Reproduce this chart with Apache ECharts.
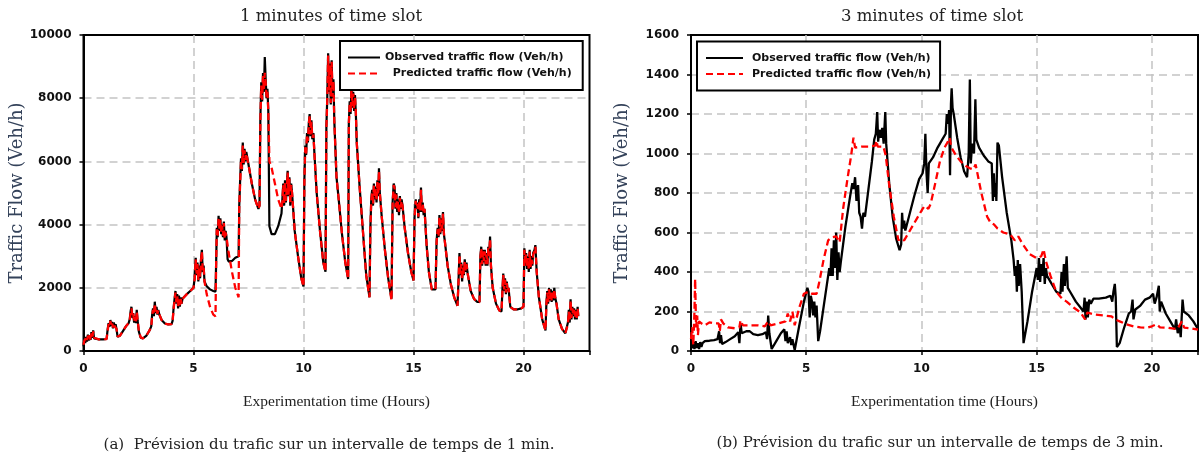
<!DOCTYPE html>
<html><head><meta charset="utf-8">
<script src="https://cdn.jsdelivr.net/npm/echarts@6/dist/echarts.min.js"></script>
<style>html,body{margin:0;padding:0;background:#fff}#c{width:1203px;height:459px}</style>
</head><body><div id="c"></div>
<script>
// ---- tick labels / text ----
const xTicksLeft = [0, 5, 10, 15, 20];
const yTicksLeft = [0, 2000, 4000, 6000, 8000, 10000];
const xTicksRight = [0, 5, 10, 15, 20];
const yTicksRight = [0, 200, 400, 600, 800, 1000, 1200, 1400, 1600];
const seriesNames = ['Observed traffic flow (Veh/h)', 'Predicted traffic flow (Veh/h)'];

// ---- 1 minute slot: [hour, veh/h] ----
const observed1 = [
[0,150],[0.04,380],[0.08,250],[0.12,450],[0.16,300],[0.2,520],[0.24,330],[0.28,480],[0.32,350],[0.36,600],[0.4,420],[0.44,650],[0.48,400],[0.55,380],[0.7,370],[0.9,370],[1.05,380],
[1.1,700],[1.14,880],[1.18,760],[1.22,980],[1.26,800],[1.3,920],[1.34,720],[1.38,900],[1.42,760],[1.46,850],[1.5,700],[1.55,450],[1.65,480],[1.8,640],[1.95,800],[2.05,880],
[2.1,1000],[2.14,1250],[2.18,1400],[2.22,1050],[2.26,1200],[2.3,900],[2.34,1100],[2.38,880],[2.42,1300],[2.46,950],[2.52,600],[2.6,420],[2.7,400],[2.85,480],[3.0,650],[3.08,780],
[3.12,1150],[3.16,1350],[3.2,1100],[3.24,1560],[3.28,1200],[3.32,1400],[3.36,1150],[3.4,1300],[3.45,1150],[3.55,980],[3.7,870],[3.85,840],[4.0,850],[4.05,950],
[4.1,1400],[4.14,1650],[4.18,1900],[4.22,1500],[4.26,1800],[4.3,1350],[4.34,1750],[4.38,1400],[4.42,1700],[4.46,1500],[4.5,1650],[4.7,1800],[4.9,1930],[5.0,2000],
[5.05,2300],[5.1,2950],[5.14,2400],[5.18,2800],[5.22,2200],[5.26,2700],[5.3,2300],[5.34,2900],[5.38,3200],[5.42,2500],[5.46,2700],[5.5,2200],[5.6,2050],[5.75,1950],[5.9,1900],[6.0,1880],
[6.03,2800],[6.06,3900],[6.1,3600],[6.14,4280],[6.18,3800],[6.22,4200],[6.26,3700],[6.3,4000],[6.34,3600],[6.38,4100],[6.42,3500],[6.46,3800],[6.5,3600],[6.55,2900],[6.6,2830],[6.75,2850],[6.9,2950],[7.05,3000],
[7.08,4600],[7.12,5400],[7.16,6100],[7.2,5700],[7.24,6600],[7.28,5900],[7.32,6400],[7.36,6000],[7.4,6300],[7.5,5900],[7.65,5300],[7.8,4800],[7.95,4500],[8.0,4600],
[8.04,7400],[8.08,8500],[8.12,7900],[8.16,8800],[8.2,8200],[8.24,9300],[8.28,8600],[8.32,8000],[8.36,8300],[8.4,7600],[8.45,3950],[8.55,3700],[8.7,3700],[8.85,3950],[9.0,4350],
[9.04,4800],[9.08,5300],[9.12,4600],[9.16,5400],[9.2,4700],[9.24,5200],[9.28,5700],[9.32,4900],[9.36,5500],[9.4,4600],[9.44,5300],[9.48,5000],[9.6,3800],[9.75,3000],[9.9,2300],[10.0,2040],
[10.04,5400],[10.08,6500],[10.12,6200],[10.16,6900],[10.2,6600],[10.24,7200],[10.28,7500],[10.32,6800],[10.36,7300],[10.4,6700],[10.45,6900],[10.5,6200],[10.6,5000],[10.75,3800],[10.9,2800],[11.0,2510],
[11.04,7100],[11.08,8000],[11.12,9420],[11.16,8200],[11.2,9100],[11.24,7800],[11.28,9200],[11.32,8000],[11.36,8600],[11.4,7300],[11.5,5500],[11.6,4800],[11.75,3700],[11.9,2800],[12.03,2280],
[12.06,7200],[12.1,7900],[12.14,7500],[12.18,8300],[12.22,7700],[12.26,8200],[12.3,7600],[12.34,8100],[12.38,7500],[12.42,6600],[12.55,5200],[12.7,3800],[12.85,2400],[13.0,1700],
[13.04,3900],[13.08,4800],[13.12,5100],[13.16,4600],[13.2,5300],[13.24,4800],[13.28,5200],[13.32,4700],[13.36,5400],[13.4,4900],[13.43,5780],[13.47,5000],[13.55,4300],[13.7,3200],[13.85,2300],[14.0,1650],
[14.05,4700],[14.1,5300],[14.14,5200],[14.18,4500],[14.22,5000],[14.26,4400],[14.3,4800],[14.34,4300],[14.38,4900],[14.42,4500],[14.46,4800],[14.5,4600],[14.6,3900],[14.75,3100],[14.9,2500],[15.0,2230],
[15.05,4300],[15.1,4800],[15.14,4500],[15.18,4700],[15.22,4200],[15.26,4800],[15.3,4400],[15.34,5170],[15.38,4400],[15.42,4700],[15.46,4300],[15.5,4500],[15.6,3300],[15.7,2500],[15.83,1950],[16.0,1950],
[16.05,3500],[16.1,3900],[16.14,3600],[16.18,4300],[16.22,3700],[16.26,4200],[16.3,3800],[16.34,4400],[16.38,3700],[16.42,3500],[16.55,2700],[16.7,2100],[16.85,1700],[17.0,1430],
[17.05,2300],[17.09,3100],[17.13,2400],[17.17,2800],[17.21,2200],[17.25,2700],[17.29,2400],[17.33,2900],[17.37,2500],[17.41,2800],[17.45,2500],[17.5,2300],[17.6,1900],[17.75,1650],[17.9,1550],[18.0,1550],
[18.04,3000],[18.08,3300],[18.12,2700],[18.16,3200],[18.2,2800],[18.24,3200],[18.28,2700],[18.32,3100],[18.36,2700],[18.4,3300],[18.44,3000],[18.48,3620],[18.52,2700],[18.6,2000],[18.75,1500],[18.9,1280],[19.0,1250],
[19.04,1900],[19.08,2450],[19.12,1900],[19.16,2300],[19.2,1800],[19.24,2200],[19.28,1900],[19.32,2000],[19.4,1400],[19.55,1320],[19.75,1320],[19.9,1350],[20.0,1400],
[20.04,3250],[20.08,2700],[20.12,3100],[20.16,2600],[20.2,3000],[20.24,2500],[20.28,3200],[20.32,2600],[20.36,3000],[20.4,2700],[20.44,3100],[20.5,3200],[20.54,3350],[20.6,2500],[20.7,1700],[20.85,1000],[21.0,650],
[21.04,1500],[21.08,1900],[21.12,1500],[21.16,2000],[21.2,1600],[21.24,1950],[21.28,1550],[21.32,1900],[21.36,1600],[21.4,2000],[21.44,1700],[21.5,1500],[21.6,1000],[21.75,700],[21.9,560],[21.97,560],
[22.02,900],[22.06,1300],[22.1,900],[22.14,1640],[22.18,1000],[22.22,1400],[22.26,1100],[22.3,1350],[22.34,1000],[22.38,1300],[22.42,1000],[22.46,1400],[22.49,1100]
];
const predicted1 = [
[0,200],[0.04,330],[0.08,280],[0.12,420],[0.16,330],[0.2,480],[0.24,350],[0.28,500],[0.32,330],[0.36,560],[0.4,400],[0.44,620],[0.48,420],[0.55,380],[0.7,370],[0.9,370],[1.05,380],
[1.1,650],[1.14,850],[1.18,780],[1.22,950],[1.26,820],[1.3,900],[1.34,740],[1.38,880],[1.42,780],[1.46,820],[1.5,700],[1.55,460],[1.65,480],[1.8,640],[1.95,800],[2.05,880],
[2.1,950],[2.14,1200],[2.18,1350],[2.22,1080],[2.26,1180],[2.3,920],[2.34,1080],[2.38,900],[2.42,1250],[2.46,980],[2.52,620],[2.6,430],[2.7,400],[2.85,480],[3.0,650],[3.08,780],
[3.12,1100],[3.16,1300],[3.2,1150],[3.24,1500],[3.28,1250],[3.32,1350],[3.36,1180],[3.4,1280],[3.45,1150],[3.55,980],[3.7,870],[3.85,840],[4.0,850],[4.05,950],
[4.1,1350],[4.14,1600],[4.18,1850],[4.22,1550],[4.26,1750],[4.3,1400],[4.34,1700],[4.38,1450],[4.42,1650],[4.46,1500],[4.5,1650],[4.7,1800],[4.9,1930],[5.0,2000],
[5.05,2250],[5.1,2900],[5.14,2450],[5.18,2750],[5.22,2250],[5.26,2650],[5.3,2350],[5.34,2850],[5.38,3150],[5.42,2550],[5.46,2650],[5.5,2200],[5.6,1800],[5.75,1400],[5.9,1150],[6.0,1100],
[6.03,2800],[6.06,3850],[6.1,3650],[6.14,4200],[6.18,3850],[6.22,4150],[6.26,3750],[6.3,3950],[6.34,3650],[6.38,4050],[6.42,3550],[6.46,3750],[6.5,3600],[6.6,3100],[6.75,2500],[6.9,2000],[7.05,1700],
[7.08,4600],[7.12,5300],[7.16,6000],[7.2,5750],[7.24,6500],[7.28,5950],[7.32,6350],[7.36,6050],[7.4,6250],[7.5,5900],[7.65,5300],[7.8,4800],[7.95,4500],[8.0,4600],
[8.04,7300],[8.08,8400],[8.12,7950],[8.16,8700],[8.2,8250],[8.24,8800],[8.28,8500],[8.32,8050],[8.36,8200],[8.4,7600],[8.45,6000],[8.55,5800],[8.7,5300],[8.85,4800],[9.0,4500],
[9.04,4750],[9.08,5250],[9.12,4650],[9.16,5350],[9.2,4750],[9.24,5150],[9.28,5650],[9.32,4950],[9.36,5450],[9.4,4650],[9.44,5250],[9.48,5000],[9.6,3800],[9.75,3000],[9.9,2300],[10.0,2040],
[10.04,5350],[10.08,6450],[10.12,6250],[10.16,6850],[10.2,6650],[10.24,7150],[10.28,7450],[10.32,6850],[10.36,7250],[10.4,6750],[10.45,6850],[10.5,6200],[10.6,5000],[10.75,3800],[10.9,2800],[11.0,2510],
[11.04,7050],[11.08,7950],[11.12,9350],[11.16,8250],[11.2,9050],[11.24,7850],[11.28,9150],[11.32,8050],[11.36,8550],[11.4,7300],[11.5,5500],[11.6,4800],[11.75,3700],[11.9,2800],[12.03,2280],
[12.06,7150],[12.1,7850],[12.14,7550],[12.18,8250],[12.22,7750],[12.26,8150],[12.3,7650],[12.34,8050],[12.38,7550],[12.42,6600],[12.55,5200],[12.7,3800],[12.85,2400],[13.0,1700],
[13.04,3850],[13.08,4750],[13.12,5050],[13.16,4650],[13.2,5250],[13.24,4850],[13.28,5150],[13.32,4750],[13.36,5350],[13.4,4950],[13.43,5700],[13.47,5000],[13.55,4300],[13.7,3200],[13.85,2300],[14.0,1600],
[14.05,4650],[14.1,5250],[14.14,5150],[14.18,4550],[14.22,4950],[14.26,4450],[14.3,4750],[14.34,4350],[14.38,4850],[14.42,4550],[14.46,4750],[14.5,4600],[14.6,3900],[14.75,3100],[14.9,2500],[15.0,2230],
[15.05,4250],[15.1,4750],[15.14,4550],[15.18,4650],[15.22,4250],[15.26,4750],[15.3,4450],[15.34,5100],[15.38,4450],[15.42,4650],[15.46,4350],[15.5,4500],[15.6,3300],[15.7,2500],[15.83,1950],[16.0,1950],
[16.05,3450],[16.1,3850],[16.14,3650],[16.18,4250],[16.22,3750],[16.26,4150],[16.3,3850],[16.34,4350],[16.38,3750],[16.42,3500],[16.55,2700],[16.7,2100],[16.85,1700],[17.0,1430],
[17.05,2250],[17.09,3050],[17.13,2450],[17.17,2750],[17.21,2250],[17.25,2650],[17.29,2450],[17.33,2850],[17.37,2550],[17.41,2750],[17.45,2500],[17.5,2300],[17.6,1900],[17.75,1650],[17.9,1550],[18.0,1550],
[18.04,2950],[18.08,3250],[18.12,2750],[18.16,3150],[18.2,2850],[18.24,3150],[18.28,2750],[18.32,3050],[18.36,2750],[18.4,3250],[18.44,3000],[18.48,3550],[18.52,2700],[18.6,2000],[18.75,1500],[18.9,1280],[19.0,1250],
[19.04,1850],[19.08,2400],[19.12,1950],[19.16,2250],[19.2,1850],[19.24,2150],[19.28,1900],[19.32,2000],[19.4,1400],[19.55,1320],[19.75,1320],[19.9,1350],[20.0,1400],
[20.04,3200],[20.08,2750],[20.12,3050],[20.16,2650],[20.2,2950],[20.24,2550],[20.28,3150],[20.32,2650],[20.36,2950],[20.4,2750],[20.44,3050],[20.5,3150],[20.54,3300],[20.6,2500],[20.7,1700],[20.85,1000],[21.0,650],
[21.04,1450],[21.08,1850],[21.12,1550],[21.16,1950],[21.2,1650],[21.24,1900],[21.28,1600],[21.32,1850],[21.36,1650],[21.4,1950],[21.44,1700],[21.5,1500],[21.6,1000],[21.75,700],[21.9,560],[21.97,560],
[22.02,850],[22.06,1250],[22.1,950],[22.14,1600],[22.18,1050],[22.22,1350],[22.26,1150],[22.3,1300],[22.34,1050],[22.38,1250],[22.42,1050],[22.46,1350],[22.49,1100]
];

// ---- 3 minutes slot: [hour, veh/h] ----
const observed3 = [
[0,30],[0.05,15],[0.1,45],[0.15,10],[0.2,50],[0.25,15],[0.3,40],[0.35,10],[0.4,45],[0.45,20],[0.5,40],[0.6,50],[0.8,52],[1.0,55],[1.15,60],[1.22,100],[1.26,40],[1.3,80],[1.35,35],[1.5,45],[1.7,60],[1.9,75],[2.05,95],[2.1,40],[2.15,140],[2.2,90],[2.4,100],[2.55,100],[2.7,85],[2.9,80],[3.1,85],[3.25,95],[3.3,60],[3.35,180],[3.4,90],[3.5,10],[3.55,20],[3.7,50],[3.9,90],[4.05,110],[4.1,50],[4.15,100],[4.2,40],[4.3,70],[4.35,30],[4.4,60],[4.5,5],
[4.7,130],[4.9,250],[5.05,320],[5.1,300],[5.15,170],[5.2,280],[5.25,250],[5.3,180],[5.35,250],[5.4,170],[5.45,230],[5.52,50],[5.6,100],[5.8,260],[6.0,420],[6.05,380],[6.1,520],[6.15,380],[6.2,560],[6.25,420],[6.3,600],[6.35,360],[6.4,500],[6.45,400],[6.5,450],
[6.7,630],[6.9,780],[7.0,850],[7.06,820],[7.12,880],[7.18,760],[7.25,840],[7.3,700],[7.36,680],[7.42,620],[7.48,700],[7.55,680],[7.7,820],[7.85,960],[7.95,1070],[8.02,1100],[8.08,1210],[8.12,1060],[8.18,1120],[8.24,1080],[8.3,1130],[8.36,1050],[8.43,1210],[8.47,1050],
[8.6,850],[8.75,680],[8.9,570],[9.05,510],[9.12,540],[9.16,700],[9.2,620],[9.25,660],[9.3,610],[9.5,700],[9.7,790],[9.9,870],[10.05,900],[10.12,950],[10.17,1100],[10.22,900],[10.27,800],[10.32,950],[10.5,980],[10.7,1030],[10.9,1070],[11.05,1100],
[11.1,1200],[11.15,1150],[11.2,1220],[11.24,890],[11.28,1250],[11.31,1330],[11.35,1230],[11.4,1200],[11.55,1080],[11.7,980],[11.85,910],[11.98,880],[12.05,1000],[12.1,1375],[12.14,950],[12.2,1050],[12.28,1000],[12.34,1275],[12.38,1070],[12.5,1030],[12.7,990],[12.9,960],[13.05,950],
[13.1,760],[13.14,900],[13.18,780],[13.22,850],[13.25,760],[13.3,1055],[13.36,1040],[13.5,880],[13.7,700],[13.9,560],[14.0,460],[14.05,380],[14.1,430],[14.14,300],[14.18,460],[14.22,330],[14.28,440],[14.35,300],[14.43,40],
[14.6,150],[14.8,300],[15.0,420],[15.05,360],[15.1,470],[15.15,350],[15.2,440],[15.25,380],[15.3,470],[15.35,340],[15.4,420],[15.45,380],[15.6,350],[15.85,300],[16.03,290],[16.08,400],[16.12,300],[16.18,440],[16.22,330],[16.27,420],[16.3,480],[16.35,320],[16.45,300],
[16.7,250],[16.9,220],[17.03,200],[17.08,270],[17.12,160],[17.18,250],[17.22,170],[17.28,260],[17.35,240],[17.46,265],[17.7,265],[18.0,270],[18.2,280],[18.28,250],[18.33,300],[18.39,340],[18.43,270],[18.48,20],
[18.6,40],[18.8,120],[19.0,190],[19.1,200],[19.16,260],[19.2,160],[19.28,210],[19.5,230],[19.7,260],[19.9,270],[20.05,290],[20.12,240],[20.2,270],[20.3,330],[20.34,200],[20.4,250],[20.6,190],[20.8,150],[21.0,110],[21.05,160],[21.12,90],[21.2,130],[21.25,70],[21.33,260],[21.38,200],[21.45,210],[21.6,180],[21.8,150],[22.0,110]
];
const predicted3 = [
[0,60],[0.05,120],[0.1,30],[0.15,200],[0.18,365],[0.22,120],[0.27,180],[0.3,80],[0.35,150],[0.45,140],[0.6,130],[0.8,145],[1.0,140],[1.2,140],[1.25,100],[1.3,160],[1.4,140],[1.6,120],[1.9,115],[2.1,120],[2.15,155],[2.25,130],[2.6,130],[2.9,130],[3.2,125],[3.35,150],[3.45,130],[3.8,140],[4.1,150],[4.2,190],[4.3,150],[4.4,200],[4.5,130],
[4.7,220],[4.9,290],[5.1,300],[5.25,290],[5.45,290],[5.55,340],[5.75,460],[5.95,560],[6.1,575],[6.3,580],[6.45,550],[6.6,720],[6.8,880],[6.95,990],[7.05,1080],[7.12,1030],[7.4,1035],[7.7,1035],[8.0,1040],[8.05,1065],[8.1,1035],[8.35,1035],[8.45,990],
[8.6,840],[8.8,680],[9.0,560],[9.1,570],[9.25,560],[9.45,600],[9.7,650],[9.9,690],[10.05,720],[10.15,735],[10.3,720],[10.4,745],[10.6,850],[10.8,960],[11.0,1030],[11.15,1060],[11.22,1080],[11.3,1030],[11.5,990],[11.7,960],[11.95,935],[12.1,925],[12.25,920],[12.35,945],
[12.6,800],[12.85,680],[13.0,650],[13.15,640],[13.3,620],[13.55,600],[13.85,590],[14.05,560],[14.2,580],[14.4,540],[14.7,490],[15.0,470],[15.2,480],[15.3,515],[15.4,455],[15.6,380],[15.85,300],[16.03,275],[16.15,260],[16.3,250],[16.6,220],[16.9,195],[17.1,160],[17.2,195],
[17.5,185],[17.9,180],[18.25,175],[18.4,160],[18.6,150],[18.9,135],[19.2,125],[19.5,120],[19.8,118],[20.0,125],[20.2,135],[20.35,120],[20.7,118],[21.1,110],[21.3,150],[21.4,118],[21.7,115],[22.0,108]
];

// ---- build options ----
const serifFace = '"DejaVu Serif", serif';
const tickFont = { fontFamily: '"DejaVu Sans", sans-serif', fontWeight: 'bold', fontSize: 12, color: '#111' };
const split = { show: true, showMinLine: false, showMaxLine: false, lineStyle: { color: '#c4c4c4', width: 1.5, type: [8, 5] } };

function xAxisFor(gridIndex, ticks, max) {
  return {
    type: 'value', gridIndex, min: 0, max, interval: ticks[1] - ticks[0],
    name: 'Experimentation time (Hours)', nameLocation: 'middle', nameGap: 43,
    nameTextStyle: { fontFamily: '"Liberation Serif", serif', fontSize: 15.5, color: '#222' },
    axisLine: { lineStyle: { color: '#000', width: 2 } },
    axisTick: { show: true, length: 4, lineStyle: { color: '#000', width: 1.5 } },
    axisLabel: Object.assign({ margin: 12, formatter: v => (ticks.indexOf(v) >= 0 ? String(v) : '') }, tickFont),
    splitLine: split
  };
}
function yAxisFor(gridIndex, ticks, gap) {
  return {
    type: 'value', gridIndex, min: ticks[0], max: ticks[ticks.length - 1], interval: ticks[1] - ticks[0],
    name: 'Traffic Flow (Veh/h)', nameLocation: 'middle', nameGap: gap, nameRotate: 90,
    nameTextStyle: { fontFamily: serifFace, fontSize: 18, color: '#34425a' },
    axisLine: { show: true, lineStyle: { color: '#000', width: 2 } },
    axisTick: { show: true, length: 4, lineStyle: { color: '#000', width: 1.5 } },
    axisLabel: Object.assign({ margin: 12, formatter: v => (ticks.indexOf(v) >= 0 ? String(v) : '') }, tickFont),
    splitLine: split
  };
}
function obsSeries(i, data, w) {
  return { name: seriesNames[0], type: 'line', xAxisIndex: i, yAxisIndex: i, data, symbol: 'none',
    lineStyle: { color: '#000', width: w }, itemStyle: { color: '#000' }, z: 2 };
}
function predSeries(i, data, w) {
  return { name: seriesNames[1], type: 'line', xAxisIndex: i, yAxisIndex: i, data, symbol: 'none',
    lineStyle: { color: '#ff0000', width: w, type: [7, 4] }, itemStyle: { color: '#ff0000' }, z: 3 };
}
const legendText = { fontFamily: '"DejaVu Sans", sans-serif', fontWeight: 'bold', fontSize: 11, color: '#111' };

const option = {
  animation: false,
  backgroundColor: '#fff',
  grid: [
    { left: 83.5, right: 1203 - 589.5, top: 35, bottom: 459 - 351, show: true, borderColor: '#000', borderWidth: 2, containLabel: false },
    { left: 691, right: 5, top: 35, bottom: 459 - 351, show: true, borderColor: '#000', borderWidth: 2, containLabel: false }
  ],
  xAxis: [xAxisFor(0, xTicksLeft, 23), xAxisFor(1, xTicksRight, 22)],
  yAxis: [yAxisFor(0, yTicksLeft, 52), yAxisFor(1, yTicksRight, 60)],
  legend: [
    { left: 340, top: 41, orient: 'vertical', data: seriesNames, itemWidth: 32, itemHeight: 12, itemGap: 5,
      padding: [11, 11, 11, 7], borderColor: '#000', borderWidth: 2, backgroundColor: '#fff',
      itemStyle: { opacity: 0 },
      formatter: n => (n === seriesNames[1] ? '  ' + n : n), textStyle: legendText, selectedMode: false },
    { left: 697, top: 41.5, orient: 'vertical', data: seriesNames, itemWidth: 37, itemHeight: 12, itemGap: 5,
      padding: [11, 9, 11, 8], borderColor: '#000', borderWidth: 2, backgroundColor: '#fff',
      itemStyle: { opacity: 0 },
      textStyle: Object.assign({ padding: [0, 0, 0, 4] }, legendText), selectedMode: false }
  ],
  graphic: [
    { type: 'text', x: 331, y: 17, style: { text: '1 minutes of time slot', align: 'center', verticalAlign: 'middle', font: '16.5px "DejaVu Serif", serif', fill: '#222' } },
    { type: 'text', x: 932, y: 17, style: { text: '3 minutes of time slot', align: 'center', verticalAlign: 'middle', font: '16.5px "DejaVu Serif", serif', fill: '#222' } },
    { type: 'text', x: 329, y: 445, style: { text: '(a)  Prévision du trafic sur un intervalle de temps de 1 min.', align: 'center', verticalAlign: 'middle', font: '15px "DejaVu Serif", serif', fill: '#222' } },
    { type: 'text', x: 940, y: 443, style: { text: '(b) Prévision du trafic sur un intervalle de temps de 3 min.', align: 'center', verticalAlign: 'middle', font: '15px "DejaVu Serif", serif', fill: '#222' } }
  ],
  series: [
    obsSeries(0, observed1, 2.2), predSeries(0, predicted1, 2.3),
    obsSeries(1, observed3, 2.3), predSeries(1, predicted3, 2.3)
  ]
};
const chart = echarts.init(document.getElementById('c'), null, { renderer: 'canvas' });
chart.setOption(option);
</script></body></html>
